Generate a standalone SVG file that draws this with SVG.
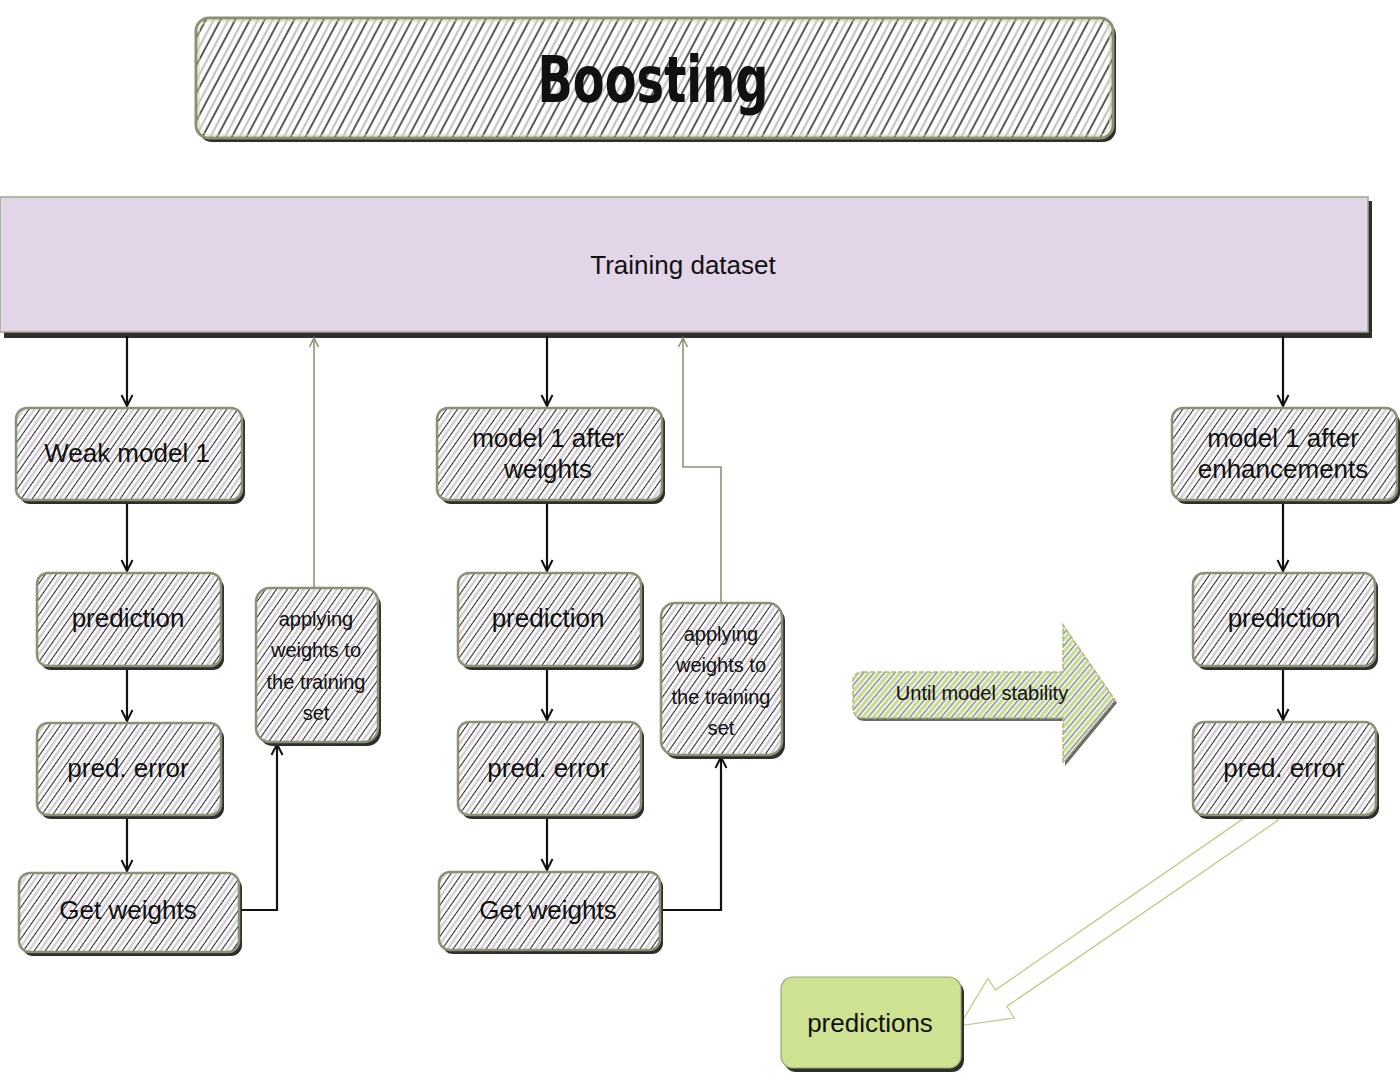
<svg xmlns="http://www.w3.org/2000/svg" width="1400" height="1073" viewBox="0 0 1400 1073">
<defs>
<pattern id="hatch" width="9" height="9" patternUnits="userSpaceOnUse" patternTransform="rotate(35)">
<rect width="9" height="9" fill="#ffffff"/>
<line x1="2" y1="0" x2="2" y2="9" stroke="#d4cbd4" stroke-width="2.5"/>
<line x1="6.5" y1="0" x2="6.5" y2="9" stroke="#2a2a2a" stroke-width="1.1"/>
</pattern>
<pattern id="hatchT" width="13" height="13" patternUnits="userSpaceOnUse" patternTransform="rotate(28)">
<rect width="13" height="13" fill="#ffffff"/>
<line x1="3" y1="0" x2="3" y2="13" stroke="#c9c2c9" stroke-width="2.2"/>
<line x1="9" y1="0" x2="9" y2="13" stroke="#222" stroke-width="1.5"/>
</pattern>
<pattern id="hatchG" width="8" height="8" patternUnits="userSpaceOnUse" patternTransform="rotate(40)">
<rect width="8" height="8" fill="#ffffff"/>
<line x1="2" y1="0" x2="2" y2="8" stroke="#c3da8c" stroke-width="3.2"/>
<line x1="6" y1="0" x2="6" y2="8" stroke="#333" stroke-width="0.9"/>
</pattern>
<marker id="ab" markerWidth="14" markerHeight="14" refX="12" refY="7" orient="auto" markerUnits="userSpaceOnUse">
<path d="M1,1.5 L12,7 L1,12.5" fill="none" stroke="#111" stroke-width="2"/>
</marker>
<marker id="ag" markerWidth="12" markerHeight="12" refX="10" refY="6" orient="auto" markerUnits="userSpaceOnUse">
<path d="M1,1.5 L10,6 L1,10.5" fill="none" stroke="#8b9173" stroke-width="1.6"/>
</marker>
<style>
.shadow{fill:#2e2e2e}
.box{fill:url(#hatch);stroke:#8b9173;stroke-width:2.5}
.inner{fill:none;stroke:#c9dc95;stroke-width:1}
.t{font-family:"Liberation Sans",Arial,sans-serif;font-size:26px;fill:#111;text-anchor:middle}
.ts{font-family:"Liberation Sans",Arial,sans-serif;font-size:20px;fill:#111;text-anchor:middle}
.cb{fill:none;stroke:#111;stroke-width:2.2;marker-end:url(#ab)}
.cg{fill:none;stroke:#8b9173;stroke-width:1.6;marker-end:url(#ag)}
</style>
</defs>
<rect width="1400" height="1073" fill="#ffffff"/>

<g id="title">
<rect class="shadow" x="199" y="22" width="917" height="120" rx="13"/>
<rect x="196" y="18" width="917" height="120" rx="13" fill="url(#hatchT)" stroke="#8b9173" stroke-width="3"/>
<rect x="199" y="21" width="911" height="114" rx="11" class="inner"/>
<text x="653" y="102" font-family="'DejaVu Sans',sans-serif" font-weight="bold" font-size="64" fill="#111" text-anchor="middle" textLength="231" lengthAdjust="spacingAndGlyphs">Boosting</text>
</g>

<g id="training">
<rect class="shadow" x="4" y="201" width="1368" height="137"/>
<rect x="0" y="197" width="1368" height="135" fill="#e1d5e7" stroke="#a3a58c" stroke-width="1.5"/>
<text class="t" x="683" y="274">Training dataset</text>
</g>

<g id="connectors">
<path class="cb" d="M127,336 V406"/>
<path class="cb" d="M127,500 V571"/>
<path class="cb" d="M127,666 V721"/>
<path class="cb" d="M127,815 V871"/>
<path class="cb" d="M239,910 H277 V744"/>
<path class="cg" d="M314,588 V338"/>
<path class="cb" d="M547,336 V406"/>
<path class="cb" d="M547,500 V571"/>
<path class="cb" d="M547,666 V720"/>
<path class="cb" d="M547,815 V870"/>
<path class="cb" d="M660,910 H721 V757"/>
<path class="cg" d="M721,603 V467 H683 V338"/>
<path class="cb" d="M1283,336 V406"/>
<path class="cb" d="M1283,500 V571"/>
<path class="cb" d="M1283,666 V720"/>
<g id="bigarrow">
<polygon points="1264,806 995,992 988,981 962,1024 1012,1017 1005,1006 1276,820" fill="none" stroke="#b7cf80" stroke-width="4" stroke-linejoin="miter"/>
<polygon points="1264,806 995,992 988,981 962,1024 1012,1017 1005,1006 1276,820" fill="#ffffff" stroke="#ffffff" stroke-width="1.5" stroke-linejoin="miter"/>
</g>
</g>

<g id="n1">
<rect class="shadow" x="19" y="412" width="226" height="92" rx="11"/>
<rect class="box" x="16" y="408" width="226" height="92" rx="11"/>
<text class="t" x="127" y="462">Weak model 1</text>
</g>
<g id="n2">
<rect class="shadow" x="40" y="577" width="184" height="93" rx="11"/>
<rect class="box" x="37" y="573" width="184" height="93" rx="11"/>
<text class="t" x="128" y="627">prediction</text>
</g>
<g id="n3">
<rect class="shadow" x="40" y="727" width="184" height="92" rx="11"/>
<rect class="box" x="37" y="723" width="184" height="92" rx="11"/>
<text class="t" x="128" y="777">pred. error</text>
</g>
<g id="n4">
<rect class="shadow" x="22" y="877" width="220" height="79" rx="11"/>
<rect class="box" x="19" y="873" width="220" height="79" rx="11"/>
<text class="t" x="128" y="919">Get weights</text>
</g>
<g id="n5">
<rect class="shadow" x="259" y="592" width="122" height="154" rx="14"/>
<rect class="box" x="256" y="588" width="122" height="154" rx="14"/>
<text class="ts" x="316" y="626">applying</text>
<text class="ts" x="316" y="657">weights to</text>
<text class="ts" x="316" y="689">the training</text>
<text class="ts" x="316" y="720">set</text>
</g>

<g id="n6">
<rect class="shadow" x="440" y="412" width="225" height="92" rx="11"/>
<rect class="box" x="437" y="408" width="225" height="92" rx="11"/>
<text class="t" x="548" y="447">model 1 after</text>
<text class="t" x="548" y="478">weights</text>
</g>
<g id="n7">
<rect class="shadow" x="461" y="577" width="183" height="93" rx="11"/>
<rect class="box" x="458" y="573" width="183" height="93" rx="11"/>
<text class="t" x="548" y="627">prediction</text>
</g>
<g id="n8">
<rect class="shadow" x="461" y="726" width="183" height="93" rx="11"/>
<rect class="box" x="458" y="722" width="183" height="93" rx="11"/>
<text class="t" x="548" y="777">pred. error</text>
</g>
<g id="n9">
<rect class="shadow" x="442" y="876" width="221" height="78" rx="11"/>
<rect class="box" x="439" y="872" width="221" height="78" rx="11"/>
<text class="t" x="548" y="919">Get weights</text>
</g>
<g id="n10">
<rect class="shadow" x="664" y="607" width="121" height="152" rx="14"/>
<rect class="box" x="661" y="603" width="121" height="152" rx="14"/>
<text class="ts" x="721" y="641">applying</text>
<text class="ts" x="721" y="672">weights to</text>
<text class="ts" x="721" y="704">the training</text>
<text class="ts" x="721" y="735">set</text>
</g>

<g id="until">
<path d="M865,675 H1065 V628 L1117,703 L1065,766 V721 H865 Q855,721 855,711 V685 Q855,675 865,675 Z" fill="#3a3a3a" opacity="0.75"/>
<path d="M863,672 H1063 V625 L1115,700 L1063,763 V718 H863 Q853,718 853,708 V682 Q853,672 863,672 Z" fill="url(#hatchG)" stroke="#a9bd7c" stroke-width="1.5" stroke-dasharray="5 2"/>
<text class="ts" x="982" y="700">Until model stability</text>
</g>

<g id="n11">
<rect class="shadow" x="1175" y="412" width="225" height="92" rx="11"/>
<rect class="box" x="1172" y="408" width="225" height="92" rx="11"/>
<text class="t" x="1283" y="447">model 1 after</text>
<text class="t" x="1283" y="478">enhancements</text>
</g>
<g id="n12">
<rect class="shadow" x="1196" y="577" width="182" height="93" rx="11"/>
<rect class="box" x="1193" y="573" width="182" height="93" rx="11"/>
<text class="t" x="1284" y="627">prediction</text>
</g>
<g id="n13">
<rect class="shadow" x="1196" y="726" width="183" height="93" rx="11"/>
<rect class="box" x="1193" y="722" width="183" height="93" rx="11"/>
<text class="t" x="1284" y="777">pred. error</text>
</g>

<g id="predictions">
<rect class="shadow" x="784" y="981" width="180" height="91" rx="12"/>
<rect x="781" y="977" width="180" height="91" rx="12" fill="#cde391" stroke="#9aa77a" stroke-width="1.2"/>
<text class="t" x="870" y="1032">predictions</text>
</g>
</svg>
